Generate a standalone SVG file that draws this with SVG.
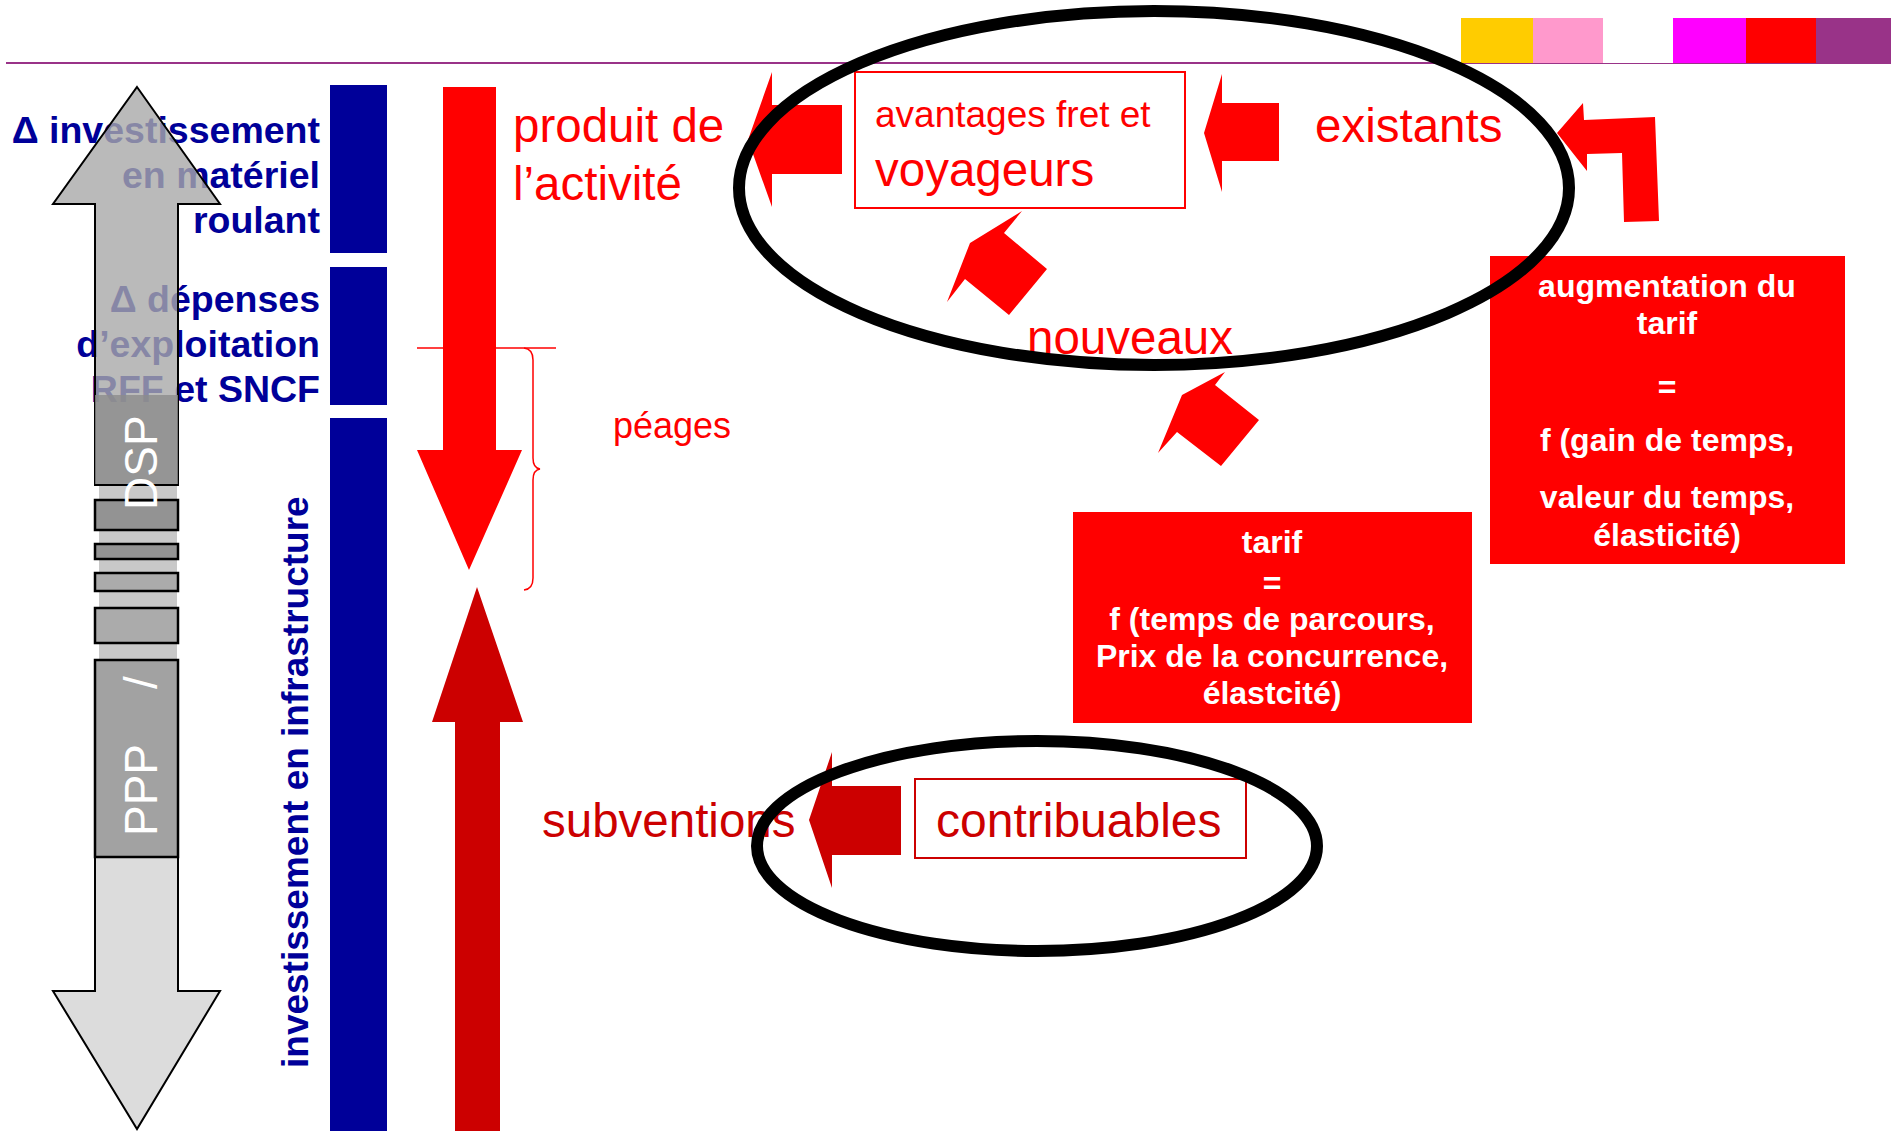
<svg xmlns="http://www.w3.org/2000/svg" width="1897" height="1131" viewBox="0 0 1897 1131">
<style>
text{font-family:"Liberation Sans",Arial,sans-serif}
.lbl{font-size:37.5px;font-weight:bold;fill:#000099;text-anchor:end}
.red{fill:#FF0000}
.dred{fill:#CC0000}
.big{font-size:47.5px}
.wb{fill:#FFFFFF;font-weight:bold;font-size:32px;text-anchor:middle}
.ell{fill:none;stroke:#000000;stroke-width:12}
.gout{stroke:#000000;stroke-width:2}
.seg{stroke:#000000;stroke-width:2.5}
</style>
<g id="header">
<line x1="6" y1="63" x2="1891" y2="63" stroke="#993388" stroke-width="2"/>
<rect x="1461" y="18" width="72" height="45" fill="#FFCC00"/>
<rect x="1533" y="18" width="70" height="45" fill="#FF99CC"/>
<rect x="1603" y="18" width="70" height="45" fill="#FFFFFF"/>
<rect x="1673" y="18" width="73" height="45" fill="#FF00FF"/>
<rect x="1746" y="18" width="70" height="45" fill="#FF0000"/>
<rect x="1816" y="18" width="75" height="45" fill="#993388"/>
</g>
<g id="labels-left">
<text class="lbl" x="320" y="143">Δ investissement</text>
<text class="lbl" x="320" y="188">en matériel</text>
<text class="lbl" x="320" y="233">roulant</text>
<text class="lbl" x="320" y="312">Δ dépenses</text>
<text class="lbl" x="320" y="357">d’exploitation</text>
<text class="lbl" x="320" y="402">RFF et SNCF</text>
</g>
<g id="gray-arrow">
<polygon class="gout" points="137,87 220,204 178,204 178,485 95,485 95,204 53,204" fill="#a9a9a9" fill-opacity="0.8"/>
<rect x="99" y="485" width="78" height="175" fill="#c8c8c8"/>
<polygon class="gout" points="95,660 178,660 178,991 220,991 137,1129 53,991 95,991" fill="#dcdcdc"/>
<rect x="95" y="395" width="83" height="90" fill="#8c8c8c" fill-opacity="0.8"/>
<line class="gout" x1="95" y1="485" x2="178" y2="485"/>
<rect class="seg" x="95" y="500" width="83" height="30" fill="#939393"/>
<rect class="seg" x="95" y="544" width="83" height="15" fill="#939393"/>
<rect class="seg" x="95" y="573" width="83" height="18" fill="#ababab"/>
<rect class="seg" x="95" y="608" width="83" height="35" fill="#ababab"/>
<rect class="seg" x="95" y="660" width="83" height="197" fill="#a2a2a2"/>
<text transform="translate(157,836) rotate(-90)" font-size="46" fill="#FFFFFF">PPP</text>
<text transform="translate(157,689) rotate(-90)" font-size="46" fill="#FFFFFF">/</text>
<text transform="translate(157,510) rotate(-90)" font-size="46" fill="#FFFFFF">DSP</text>
</g>
<g id="bars">
<rect x="330" y="85" width="57" height="168" fill="#000099"/>
<rect x="330" y="267" width="57" height="138" fill="#000099"/>
<rect x="330" y="418" width="57" height="713" fill="#000099"/>
<text transform="translate(308,1068) rotate(-90)" font-size="37" font-weight="bold" fill="#000099">investissement en infrastructure</text>
</g>
<g id="connectors">
<polygon id="arrow-produit" class="red" points="443,87 496,87 496,450 522,450 469,570 417,450 443,450"/>
<polygon id="arrow-subventions" class="dred" points="477,587 523,722 500,722 500,1131 455,1131 455,722 432,722"/>
<line x1="417" y1="348" x2="556" y2="348" stroke="#FF0000" stroke-width="1.5"/>
<path d="M524,348 Q533,349 533,360 L533,458 Q533,468 540,469 Q533,470 533,480 L533,578 Q533,589 524,590" fill="none" stroke="#FF0000" stroke-width="1.5"/>
<polygon id="arrow-avantages-produit" class="red" points="748,140 772,72 772,105 842,105 842,174 772,174 772,207"/>
<polygon id="arrow-existants-avantages" class="red" points="1204,133 1222,74 1222,103 1279,103 1279,161 1222,161 1222,192"/>
<polygon id="arrow-nouveaux-avantages" class="red" points="1022,211 1004,233 1047,269 1009,315 965,279 947,302 970,243"/>
<polygon id="arrow-tarif-nouveaux" class="red" points="1225,372 1215,385 1259,420 1221,466 1177,432 1158,453 1182,395"/>
<polygon id="arrow-augmentation-existants" class="red" points="1557,133 1583,103 1584,120 1655,117 1659,221 1624,222 1622,153 1587,154 1587,171"/>
<polygon id="arrow-contribuables-subventions" class="dred" points="809,820 832,752 832,786 901,786 901,855 832,855 832,888"/>
</g>
<g id="produit">
<text class="red big" x="513" y="142">produit de</text>
<text class="red big" x="513" y="200">l’activité</text>
</g>
<g id="peages">
<text class="red" x="613" y="438" font-size="36">péages</text>
</g>
<g id="avantages">
<rect x="855" y="72" width="330" height="136" fill="#FFFFFF" stroke="#FF0000" stroke-width="2"/>
<text class="red" x="875" y="127" font-size="37">avantages fret et</text>
<text class="red big" x="875" y="186" font-size="48">voyageurs</text>
</g>
<g id="existants">
<text class="red big" x="1315" y="142">existants</text>
</g>
<g id="nouveaux">
<text class="red big" x="1027" y="354">nouveaux</text>
</g>
<g id="augmentation">
<rect x="1490" y="256" width="355" height="308" fill="#FF0000"/>
<text class="wb" x="1667" y="297">augmentation du</text>
<text class="wb" x="1667" y="334">tarif</text>
<text class="wb" x="1667" y="398">=</text>
<text class="wb" x="1667" y="451">f (gain de temps,</text>
<text class="wb" x="1667" y="508">valeur du temps,</text>
<text class="wb" x="1667" y="546">élasticité)</text>
</g>
<g id="tarif">
<rect x="1073" y="512" width="399" height="211" fill="#FF0000"/>
<text class="wb" x="1272" y="553">tarif</text>
<text class="wb" x="1272" y="594">=</text>
<text class="wb" x="1272" y="630">f (temps de parcours,</text>
<text class="wb" x="1272" y="667">Prix de la concurrence,</text>
<text class="wb" x="1272" y="704">élastcité)</text>
</g>
<g id="subventions">
<text class="dred big" x="542" y="837">subventions</text>
</g>
<g id="contribuables">
<rect x="915" y="779" width="331" height="79" fill="#FFFFFF" stroke="#CC0000" stroke-width="2"/>
<text class="dred" x="936" y="837" font-size="48">contribuables</text>
</g>
<g id="ellipses">
<ellipse class="ell" cx="1154" cy="188" rx="415" ry="177"/>
<ellipse class="ell" cx="1037" cy="846" rx="280" ry="105"/>
</g>
</svg>
